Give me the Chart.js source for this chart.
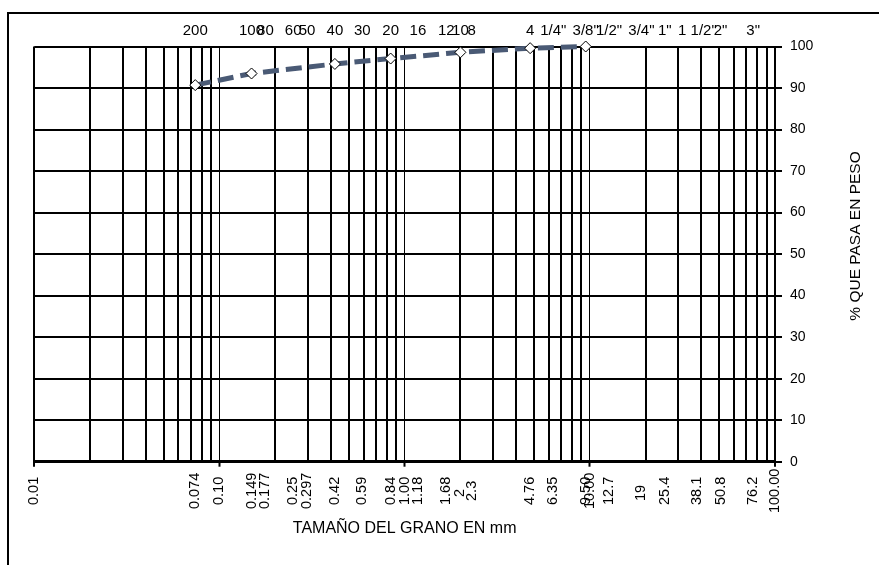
<!DOCTYPE html>
<html>
<head>
<meta charset="utf-8">
<title>Curva granulométrica</title>
<script src="https://cdn.jsdelivr.net/npm/chart.js@4.4.1/dist/chart.umd.min.js"></script>
<style>
  html, body { margin: 0; padding: 0; background: #fff; overflow: hidden; }
  #wrap { position: relative; width: 879px; height: 565px; }
  #frame { position: absolute; left: 7px; top: 12px; width: 900px; height: 600px; border: 2px solid #000; box-sizing: border-box; }
  #chart { position: absolute; left: 0; top: 0; }
</style>
</head>
<body>
<div id="wrap">
  <div id="frame"></div>
  <canvas id="chart" width="879" height="565"></canvas>
</div>
<script>
// Grading curve: grain size (mm) and % passing
const sizes = [0.074, 0.149, 0.42, 0.84, 2.0, 4.76, 9.5];
const passing = [90.7, 93.5, 95.8, 97.1, 98.6, 99.6, 100];

// Bottom axis labels (mm)
const mmTicks = [0.01, 0.074, 0.1, 0.149, 0.177, 0.25, 0.297, 0.42, 0.59, 0.84, 1, 1.18, 1.68, 2, 2.3, 4.76, 6.35, 9.5, 10, 12.7, 19, 25.4, 38.1, 50.8, 76.2, 100];
const mmLabels = ['0.01', '0.074', '0.10', '0.149', '0.177', '0.25', '0.297', '0.42', '0.59', '0.84', '1.00', '1.18', '1.68', '2', '2.3', '4.76', '6.35', '9.50', '10.00', '12.7', '19', '25.4', '38.1', '50.8', '76.2', '100.00'];

// Top axis labels: sieve names
const sieveTicks = [0.074, 0.149, 0.177, 0.25, 0.297, 0.42, 0.59, 0.84, 1.18, 1.68, 2, 2.3, 4.76, 6.35, 9.5, 12.7, 19, 25.4, 38.1, 50.8, 76.2];
const sieveLabels = ['200', '100', '80', '60', '50', '40', '30', '20', '16', '12', '10', '8', '4', '1/4"', '3/8"', '1/2"', '3/4"', '1"', '1 1/2"', '2"', '3"'];

// Log grid: decades thin, 2..9 of each decade thick
const decades = [0.01, 0.1, 1, 10, 100];
const minorGrid = [];
decades.slice(0, -1).forEach(d => {
    for (let k = 2; k <= 9; k++) minorGrid.push(+(k * d).toPrecision(4));
});

const near = (a, b) => Math.abs(a - b) < 1e-9;
const isDecade = v => decades.some(d => near(v, d));
const isMinor = v => minorGrid.some(g => near(v, g));
const allXTicks = [...new Set([...minorGrid, ...decades, ...mmTicks])].sort((a, b) => a - b);

const FONT = 'Arial, "Liberation Sans", sans-serif';
const X_TICK_SIZE = 14.5;
Chart.defaults.font.family = FONT;
Chart.defaults.color = '#000';

// rotated labels are centred like Excel does: pad short ones with trailing spaces
const measure = document.createElement('canvas').getContext('2d');
measure.font = X_TICK_SIZE + 'px ' + FONT;
const maxLabelW = Math.max(...mmLabels.map(l => measure.measureText(l).width));
const spaceW = measure.measureText(' ').width;
function centred(label) {
    const n = Math.round((maxLabelW - measure.measureText(label).width) / 2 / spaceW);
    return label + ' '.repeat(Math.max(n, 0));
}

// y axis title reads bottom to top on the right side
const yTitle = {
    id: 'yTitle',
    afterDraw(chart) {
        const c = chart.ctx;
        c.save();
        c.translate(856, 236);
        c.rotate(-Math.PI / 2);
        c.font = '15.5px ' + FONT;
        c.fillStyle = '#000';
        c.textAlign = 'center';
        c.textBaseline = 'middle';
        c.fillText('% QUE PASA EN PESO', 0, 0);
        c.restore();
    }
};

const ctx = document.getElementById('chart').getContext('2d');
new Chart(ctx, {
    type: 'line',
    data: {
        datasets: [{
            data: sizes.map((s, i) => ({ x: s, y: passing[i] })),
            borderColor: '#4a5a75',
            borderWidth: 5,
            borderDash: [16, 7],
            tension: 0,
            fill: false,
            clip: false,
            pointStyle: 'rectRot',
            pointRadius: 5.5,
            pointBackgroundColor: '#fff',
            pointBorderColor: '#000',
            pointBorderWidth: 1
        }]
    },
    options: {
        responsive: false,
        animation: false,
        layout: { padding: { left: 34.3, right: 0, top: 0, bottom: 22.4 } },
        plugins: {
            legend: { display: false },
            tooltip: { enabled: false }
        },
        scales: {
            x: {
                type: 'logarithmic',
                position: 'bottom',
                min: 0.01,
                max: 100,
                afterBuildTicks: s => { s.ticks = allXTicks.map(v => ({ value: v })); },
                afterFit: s => { s.height = 80.9; },
                ticks: {
                    autoSkip: false,
                    minRotation: 90,
                    maxRotation: 90,
                    padding: 2,
                    font: { size: X_TICK_SIZE },
                    callback: v => {
                        const i = mmTicks.findIndex(t => near(t, v));
                        return i >= 0 ? centred(mmLabels[i]) : '';
                    }
                },
                grid: {
                    color: c => {
                        const v = c.tick ? c.tick.value : 0;
                        return (isDecade(v) || isMinor(v)) ? '#000' : 'rgba(0,0,0,0)';
                    },
                    lineWidth: c => {
                        const v = c.tick ? c.tick.value : 0;
                        if (near(v, 0.01) || near(v, 100)) return 2;
                        if (isDecade(v)) return 1;
                        return isMinor(v) ? 2 : 0;
                    },
                    tickColor: c => (c.tick && isDecade(c.tick.value)) ? '#000' : 'rgba(0,0,0,0)',
                    tickWidth: 2,
                    tickLength: 5
                },
                border: { color: '#000', width: 3 },
                title: {
                    display: true,
                    text: 'TAMAÑO DEL GRANO EN mm',
                    font: { size: 16 },
                    padding: { top: 4, bottom: 4 }
                }
            },
            xTop: {
                type: 'logarithmic',
                position: 'top',
                min: 0.01,
                max: 100,
                afterBuildTicks: s => { s.ticks = sieveTicks.map(v => ({ value: v })); },
                afterFit: s => { s.height = 46.5; },
                ticks: {
                    autoSkip: false,
                    minRotation: 0,
                    maxRotation: 0,
                    padding: 7,
                    font: { size: 15 },
                    callback: (v, i) => sieveLabels[i]
                },
                grid: { display: false, drawTicks: false },
                border: { display: false }
            },
            y: {
                position: 'right',
                min: 0,
                max: 100,
                afterFit: s => { s.width = 104; },
                ticks: { stepSize: 10, padding: 8, font: { size: 14 } },
                grid: { color: '#000', lineWidth: 2, tickLength: 7, tickWidth: 2 },
                border: { color: '#000', width: 2 }
            }
        }
    },
    plugins: [yTitle]
});
</script>
</body>
</html>
